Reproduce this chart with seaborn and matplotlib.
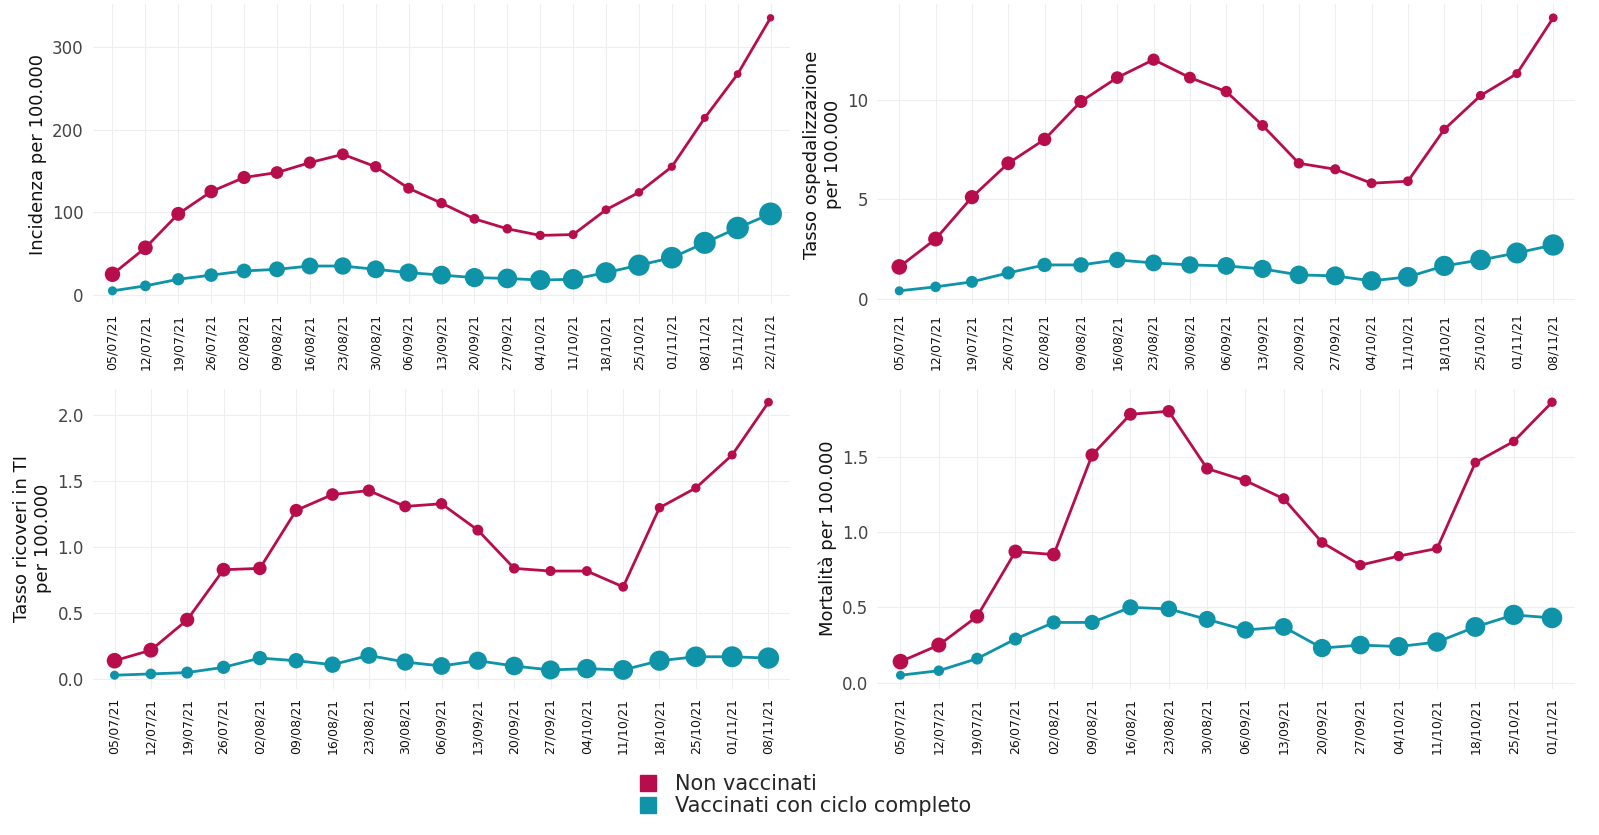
import matplotlib

matplotlib.use("Agg")
import matplotlib.pyplot as plt  # noqa: E402
import pandas as pd
import seaborn as sns
from matplotlib.lines import Line2D

RED = "#B80D4C"
TEAL = "#0E93A8"

DATES = ["05/07/21", "12/07/21", "19/07/21", "26/07/21", "02/08/21", "09/08/21",
         "16/08/21", "23/08/21", "30/08/21", "06/09/21", "13/09/21", "20/09/21",
         "27/09/21", "04/10/21", "11/10/21", "18/10/21", "25/10/21", "01/11/21",
         "08/11/21", "15/11/21", "22/11/21"]

inc_nv = [25, 57, 98, 125, 142, 148, 160, 170, 155, 129, 111, 92, 80, 72, 73,
          103, 124, 155, 214, 267, 335]
inc_vc = [5, 11, 19, 24, 29, 31, 35, 35, 31, 27, 24, 21, 20, 18, 19, 27, 36, 45,
          63, 81, 98]
osp_nv = [1.6, 3.0, 5.1, 6.8, 8.0, 9.9, 11.1, 12.0, 11.1, 10.4, 8.7, 6.8, 6.5,
          5.8, 5.9, 8.5, 10.2, 11.3, 14.1]
osp_vc = [0.4, 0.6, 0.85, 1.3, 1.7, 1.7, 1.95, 1.8, 1.7, 1.65, 1.5, 1.2, 1.15,
          0.9, 1.1, 1.65, 1.95, 2.3, 2.7]
ti_nv = [0.14, 0.22, 0.45, 0.83, 0.84, 1.28, 1.40, 1.43, 1.31, 1.33, 1.13, 0.84,
         0.82, 0.82, 0.70, 1.30, 1.45, 1.70, 2.10]
ti_vc = [0.03, 0.04, 0.05, 0.09, 0.16, 0.14, 0.11, 0.18, 0.13, 0.10, 0.14, 0.10,
         0.07, 0.08, 0.07, 0.14, 0.17, 0.17, 0.16]
mor_nv = [0.14, 0.25, 0.44, 0.87, 0.85, 1.51, 1.78, 1.80, 1.42, 1.34, 1.22, 0.93,
          0.78, 0.84, 0.89, 1.46, 1.60, 1.86]
mor_vc = [0.05, 0.08, 0.16, 0.29, 0.40, 0.40, 0.50, 0.49, 0.42, 0.35, 0.37, 0.23,
          0.25, 0.24, 0.27, 0.37, 0.45, 0.43]

# relative population weight of each group (drives point size)
peso_nv = [10, 9, 8, 7.5, 7, 6.5, 6, 5.5, 5, 4.5, 4, 3.5, 3.2, 3, 2.8, 2.6, 2.4,
           2.2, 2, 1.8, 1.6]
peso_vc = [2, 3, 4, 5, 6, 7, 8, 8.5, 9, 9.5, 10, 10.5, 11, 11.5, 12, 12.5, 13,
           13.5, 14, 14.5, 15]

PANELS = [
    (inc_nv, inc_vc, "Incidenza per 100.000", [0, 100, 200, 300], ["0", "100", "200", "300"]),
    (osp_nv, osp_vc, "Tasso ospedalizzazione\nper 100.000", [0, 5, 10], ["0", "5", "10"]),
    (ti_nv, ti_vc, "Tasso ricoveri in TI\nper 100.000", [0, 0.5, 1, 1.5, 2],
     ["0.0", "0.5", "1.0", "1.5", "2.0"]),
    (mor_nv, mor_vc, "Mortalità per 100.000", [0, 0.5, 1, 1.5], ["0.0", "0.5", "1.0", "1.5"]),
]

sns.set_theme(style="whitegrid")
fig, axes = plt.subplots(2, 2, figsize=(15.99, 8.35), dpi=100)

for ax, (nv, vc, ylab, yt, ytl) in zip(axes.flat, PANELS):
    n = len(nv)
    dates = DATES[:n]
    for vals, peso, col in [(nv, peso_nv, RED), (vc, peso_vc, TEAL)]:
        df = pd.DataFrame({"x": range(n), "y": vals, "s": peso[:n]})
        sns.lineplot(data=df, x="x", y="y", color=col, lw=2, ax=ax)
        sns.scatterplot(data=df, x="x", y="y", size="s", sizes=(df["s"].min() * 18, df["s"].max() * 18),
                        size_norm=(min(peso_nv + peso_vc), max(peso_nv + peso_vc)),
                        color=col, edgecolor="none", legend=False, ax=ax)
    ax.set_xticks(range(n))
    ax.set_xticklabels(dates, rotation=90, fontsize=9, color="#111111")
    ax.set_yticks(yt)
    ax.set_yticklabels(ytl, fontsize=12, color="#444444")
    ax.set_xlim(-0.6, n - 0.4)
    ax.set_xlabel("")
    ax.set_ylabel(ylab, fontsize=13, color="#111111")
    ax.grid(color="#EEEEEE", lw=0.8)
    for s in ax.spines.values():
        s.set_visible(False)
    ax.tick_params(axis="both", length=3, color="#555555")

handles = [Line2D([], [], marker="s", ls="", color=RED, markersize=12),
           Line2D([], [], marker="s", ls="", color=TEAL, markersize=12)]
fig.legend(handles, ["Non vaccinati", "Vaccinati con ciclo completo"],
           loc="lower center", bbox_to_anchor=(0.5, 0.0), frameon=False,
           fontsize=15, handletextpad=0.3, labelspacing=0.1)
fig.subplots_adjust(left=0.058, right=0.985, top=0.995, bottom=0.175, hspace=0.28, wspace=0.125)
fig.savefig("out.png", dpi=100)
plt.close(fig)
